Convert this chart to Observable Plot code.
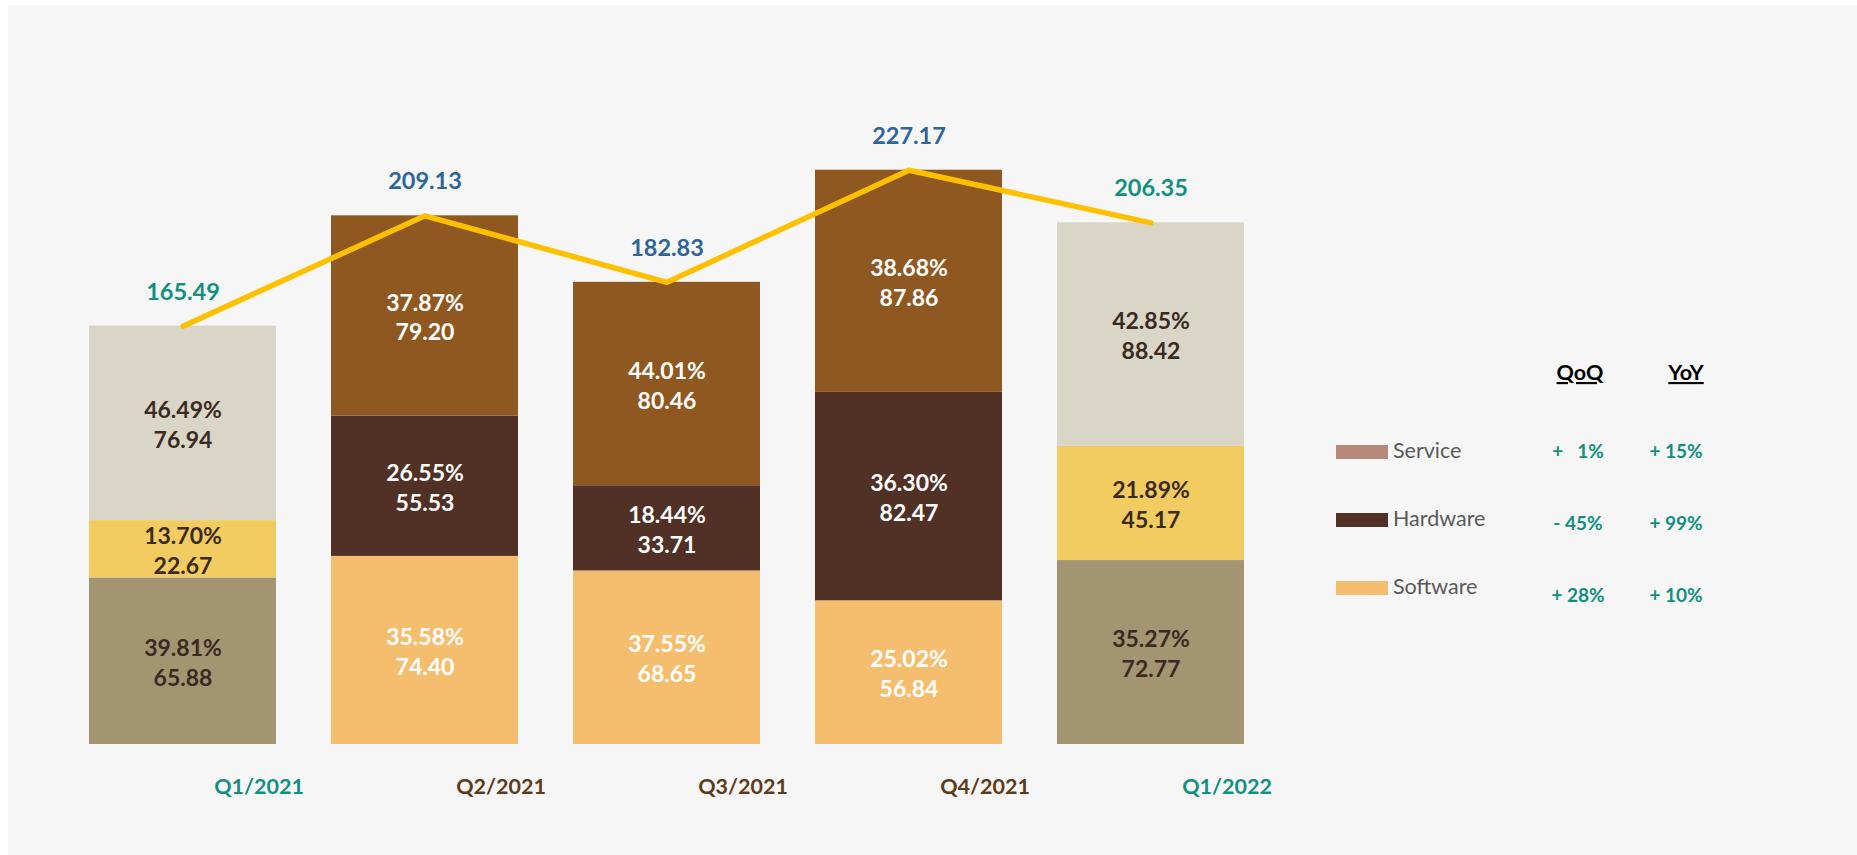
<!DOCTYPE html>
<html>
<head>
<meta charset="utf-8">
<script src="https://cdn.jsdelivr.net/npm/d3@7"></script>
<script src="https://cdn.jsdelivr.net/npm/@observablehq/plot@0.6"></script>
<style>
  html, body { margin: 0; padding: 0; background: #ffffff; width: 1857px; height: 855px; overflow: hidden; }
  #panel { position: absolute; left: 8px; top: 5px; right: 0; bottom: 0; background: #f6f6f6; }
  #chart { position: absolute; left: 0; top: 0; }
  #legend { position: absolute; left: 1300px; top: 0; }
  svg text { white-space: pre; }
</style>
</head>
<body>
<div id="panel"></div>
<div id="chart"></div>
<div id="legend"></div>
<script>
// ---- data ----
const quarters = ["Q1/2021", "Q2/2021", "Q3/2021", "Q4/2021", "Q1/2022"];
const softwareValues = [65.88, 74.40, 68.65, 56.84, 72.77];
const softwareShares = [39.81, 35.58, 37.55, 25.02, 35.27];
const hardwareValues = [22.67, 55.53, 33.71, 82.47, 45.17];
const hardwareShares = [13.70, 26.55, 18.44, 36.30, 21.89];
const serviceValues = [76.94, 79.20, 80.46, 87.86, 88.42];
const serviceShares = [46.49, 37.87, 44.01, 38.68, 42.85];
const totals = [165.49, 209.13, 182.83, 227.17, 206.35];

const legendNames = ["Service", "Hardware", "Software"];
const qoqChanges = ["+   1%", "- 45%", "+ 28%"];
const yoyChanges = ["+ 15%", "+ 99%", "+ 10%"];
const tableHeaders = ["QoQ", "YoY"];

// ---- styles ----
const paletteQ1 = {Software: "#a39572", Hardware: "#f2cc60", Service: "#d9d6c7"};
const paletteOther = {Software: "#f5be6f", Hardware: "#513026", Service: "#8f5820"};
const legendColors = {Service: "#b8897b", Hardware: "#513026", Software: "#f5be6f"};
const teal = "#11907f", blue = "#2e6599", brownLabel = "#5e3a17";
const isQ1 = q => q.startsWith("Q1");

const rows = quarters.flatMap((q, i) => [
  {quarter: q, segment: "Software", value: softwareValues[i], share: softwareShares[i]},
  {quarter: q, segment: "Hardware", value: hardwareValues[i], share: hardwareShares[i]},
  {quarter: q, segment: "Service", value: serviceValues[i], share: serviceShares[i]}
]);
const totalRows = quarters.map((q, i) => ({quarter: q, total: totals[i]}));

const chart = Plot.plot({
  width: 1299,
  height: 855,
  marginLeft: 33,
  marginRight: 0,
  marginTop: 112,
  marginBottom: 111,
  x: {type: "band", domain: quarters, padding: 0.228, axis: null},
  y: {domain: [0, 250], axis: null},
  color: {type: "identity"},
  style: {fontFamily: "Lato, sans-serif", background: "transparent", overflow: "visible"},
  marks: [
    Plot.barY(rows, Plot.stackY({
      x: "quarter", y: "value", z: "segment",
      fill: d => (isQ1(d.quarter) ? paletteQ1 : paletteOther)[d.segment]
    })),
    Plot.text(rows, Plot.stackY({
      x: "quarter", y: "value", z: "segment",
      text: d => `${d.share.toFixed(2)}%\n${d.value.toFixed(2)}`,
      fill: d => isQ1(d.quarter) ? "#3a2a20" : "#ffffff",
      fontSize: 23, fontWeight: "bold", lineHeight: 1.3
    })),
    Plot.line(totalRows, {
      x: "quarter", y: "total", stroke: "#ffc000", strokeWidth: 5.5,
      strokeLinecap: "round", strokeLinejoin: "round"
    }),
    Plot.text(totalRows, {
      x: "quarter", y: "total", text: d => d.total.toFixed(2), dy: -34,
      fill: d => isQ1(d.quarter) ? teal : blue, fontSize: 23.5, fontWeight: "bold"
    }),
    Plot.text(quarters, {
      x: d => d, text: d => d, frameAnchor: "bottom", lineAnchor: "middle", dy: 43, dx: 76,
      fill: d => isQ1(d) ? teal : brownLabel, fontSize: 21.5, fontWeight: "bold"
    })
  ]
});
document.getElementById("chart").append(chart);

// ---- legend + change table ----
const ox = 1300;
const lg = d3.select("#legend").append("svg")
  .attr("width", 557).attr("height", 855)
  .style("font-family", "Lato, sans-serif");

const rowBase = [458, 526, 594];
const valueBase = [458, 530, 602];

lg.selectAll("rect.sw").data(legendNames).join("rect")
  .attr("class", "sw")
  .attr("x", 1336 - ox).attr("y", (d, i) => rowBase[i] - 13)
  .attr("width", 52).attr("height", 14)
  .attr("fill", d => legendColors[d]);

lg.selectAll("text.nm").data(legendNames).join("text")
  .attr("class", "nm")
  .attr("x", 1393 - ox).attr("y", (d, i) => rowBase[i])
  .attr("font-size", 21.5).attr("fill", "#595959")
  .text(d => d);

const colX = [1580 - ox, 1686 - ox];
lg.selectAll("text.hd").data(tableHeaders).join("text")
  .attr("class", "hd")
  .attr("x", (d, i) => colX[i]).attr("y", 380)
  .attr("text-anchor", "middle").attr("font-size", 21.5).attr("font-weight", "bold")
  .attr("fill", "#000000").style("text-decoration", "underline")
  .text(d => d);

const valX = [1578 - ox, 1676 - ox];
[qoqChanges, yoyChanges].forEach((col, c) => {
  lg.selectAll(`text.v${c}`).data(col).join("text")
    .attr("class", `v${c}`)
    .attr("x", valX[c]).attr("y", (d, i) => valueBase[i])
    .attr("text-anchor", "middle").attr("font-size", 19).attr("font-weight", "bold")
    .attr("fill", teal)
    .text(d => d);
});
</script>
</body>
</html>
